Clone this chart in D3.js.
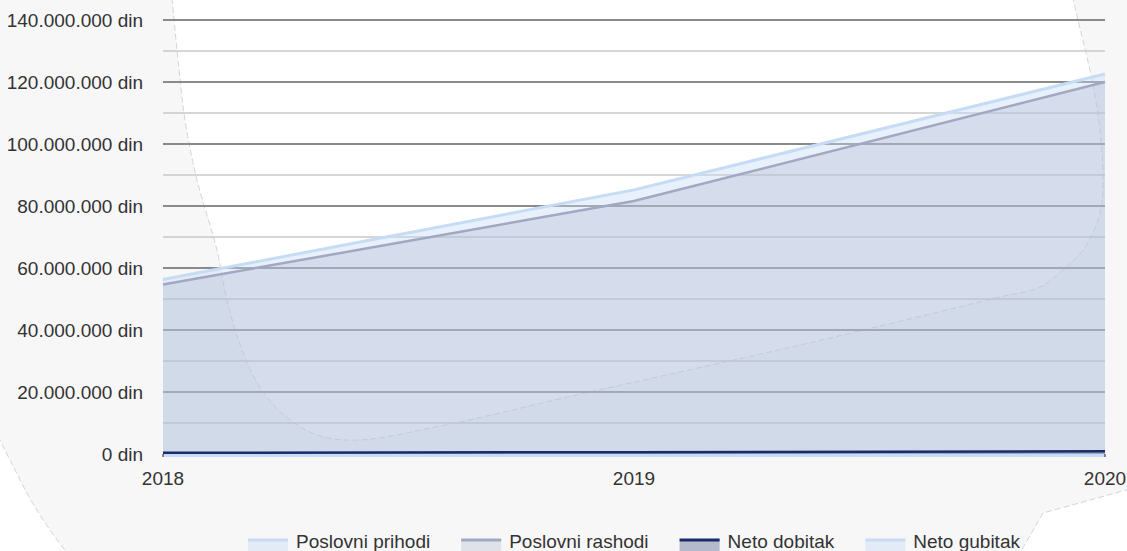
<!DOCTYPE html>
<html>
<head>
<meta charset="utf-8">
<script src="https://cdn.jsdelivr.net/npm/d3@7"></script>
<style>
  html, body { margin: 0; padding: 0; background: #f7f7f7; }
  svg { display: block; font-family: "Liberation Sans", Arial, sans-serif; }
</style>
</head>
<body>
<svg id="chart" width="1127" height="551"></svg>
<script>
var width = 1127,
    height = 551;

// data
const years = ["2018", "2019", "2020"];
const poslovni_prihodi = [56300000, 85200000, 122600000];
const poslovni_rashodi = [54700000, 81600000, 120000000];
const neto_dobitak = [400000, 600000, 900000];
const neto_gubitak = [0, 0, 0];
const y_ticks = [0, 20000000, 40000000, 60000000, 80000000, 100000000, 120000000, 140000000];

const series = [
    { name: "Poslovni prihodi", values: poslovni_prihodi, line: "#c6dcf4", fill: "rgba(198,220,244,0.4)", width: 3 },
    { name: "Poslovni rashodi", values: poslovni_rashodi, line: "#a2a7c2", fill: "rgba(160,166,194,0.26)", width: 2.5 },
    { name: "Neto dobitak", values: neto_dobitak, line: "#1b2a6b", fill: "rgba(27,42,107,0.3)", width: 2.5 },
    { name: "Neto gubitak", values: neto_gubitak, line: "#c6dcf4", fill: "rgba(198,220,244,0.4)", width: 3 }
];

const svg = d3.select("#chart");

// decorative torn-paper background
const blob_pts = [[172,-2],[178,60],[185,120],[197,180],[217,250],[227,300],[242,350],[263,392],[290,420],[320,436],[360,440],[440,426],[500,413],[550,401],[800,345],[1000,297],[1040,287],[1065,268],[1083,250],[1093,233],[1101,210],[1103,180],[1100,130],[1092,80],[1078,20],[1073,-2]];
const corner_br = [[1130,489],[1043,513],[1020,553]];
const corner_bl = [[-2,436],[12,464],[32,502],[50,530],[67,553]];

const bg = svg.append("g");
bg.append("path")
    .attr("d", d3.line().curve(d3.curveCatmullRom)(blob_pts) + "Z")
    .attr("fill", "#ffffff")
    .attr("stroke", "#d4d4d4")
    .attr("stroke-dasharray", "6,3");
bg.append("path")
    .attr("d", d3.line()(corner_br) + "L1130,553Z")
    .attr("fill", "#ffffff")
    .attr("stroke", "none");
bg.append("path")
    .attr("d", d3.line()(corner_br))
    .attr("fill", "none")
    .attr("stroke", "#d4d4d4")
    .attr("stroke-dasharray", "6,3");
bg.append("path")
    .attr("d", d3.line().curve(d3.curveCatmullRom)(corner_bl) + "L-2,553Z")
    .attr("fill", "#ffffff")
    .attr("stroke", "none");
bg.append("path")
    .attr("d", d3.line().curve(d3.curveCatmullRom)(corner_bl))
    .attr("fill", "none")
    .attr("stroke", "#d4d4d4")
    .attr("stroke-dasharray", "6,3");

const x = d3.scalePoint().domain(years).range([163, 1105]);
const y = d3.scaleLinear().domain([0, 140000000]).range([454, 20]);

const locale = d3.formatLocale({ decimal: ",", thousands: ".", grouping: [3], currency: ["", ""] });
const fmt = locale.format(",d");

// grid lines
const grid = svg.append("g");
const minor = d3.range(10000000, 140000000, 20000000);
grid.selectAll("line.minor")
    .data(minor)
    .join("line")
    .attr("class", "minor")
    .attr("x1", 163).attr("x2", 1105)
    .attr("y1", d => y(d)).attr("y2", d => y(d))
    .attr("stroke", "#c9c9c9")
    .attr("stroke-width", 1.5);
grid.selectAll("line.major")
    .data(y_ticks.filter(d => d > 0))
    .join("line")
    .attr("class", "major")
    .attr("x1", 163).attr("x2", 1105)
    .attr("y1", d => y(d)).attr("y2", d => y(d))
    .attr("stroke", "#8a8a8a")
    .attr("stroke-width", 2);

// y labels
svg.append("g").selectAll("text")
    .data(y_ticks)
    .join("text")
    .attr("x", 143)
    .attr("y", d => y(d))
    .attr("dy", "0.36em")
    .attr("text-anchor", "end")
    .attr("font-size", "19px")
    .attr("fill", "#333")
    .text(d => fmt(d) + " din");

// x labels
svg.append("g").selectAll("text")
    .data(years)
    .join("text")
    .attr("x", d => x(d))
    .attr("y", 485)
    .attr("text-anchor", "middle")
    .attr("font-size", "19px")
    .attr("fill", "#333")
    .text(d => d);

// areas and lines
const area = d3.area()
    .x((d, i) => x(years[i]))
    .y0(y(0))
    .y1(d => y(d));
const line = d3.line()
    .x((d, i) => x(years[i]))
    .y(d => y(d));

const plot = svg.append("g");
const draw_order = [series[0], series[1], series[3], series[2]];
draw_order.forEach(function (s) {
    plot.append("path")
        .attr("d", area(s.values))
        .attr("fill", s.fill);
});
draw_order.forEach(function (s) {
    plot.append("path")
        .attr("d", line(s.values))
        .attr("fill", "none")
        .attr("stroke", s.line)
        .attr("stroke-width", s.width)
        .attr("transform", s.name == "Neto gubitak" ? "translate(0,1.5)" : null);
});

// small corner ticks
svg.append("line").attr("x1", 163).attr("x2", 163).attr("y1", 454).attr("y2", 457).attr("stroke", "#222");
svg.append("line").attr("x1", 1105).attr("x2", 1105).attr("y1", 454).attr("y2", 457).attr("stroke", "#222");

// legend
const legend = svg.append("g");
const sym_w = 40, sym_gap = 8, item_gap = 31;
const items = legend.selectAll("g")
    .data(series)
    .join("g");
items.append("rect")
    .attr("x", 0).attr("y", 539)
    .attr("width", sym_w).attr("height", 16)
    .attr("fill", d => d.fill);
items.append("line")
    .attr("x1", 0).attr("x2", sym_w)
    .attr("y1", 540).attr("y2", 540)
    .attr("stroke", d => d.line)
    .attr("stroke-width", 3);
items.append("text")
    .attr("x", sym_w + sym_gap)
    .attr("y", 548)
    .attr("font-size", "19px")
    .attr("fill", "#333")
    .text(d => d.name);

var offsets = [];
var total = 0;
items.each(function (d, i) {
    const w = sym_w + sym_gap + this.querySelector("text").getComputedTextLength();
    offsets.push(total);
    total += w + item_gap;
});
total -= item_gap;
const start = (163 + 1105) / 2 - total / 2;
items.attr("transform", (d, i) => "translate(" + (start + offsets[i]) + ",0)");
</script>
</body>
</html>
